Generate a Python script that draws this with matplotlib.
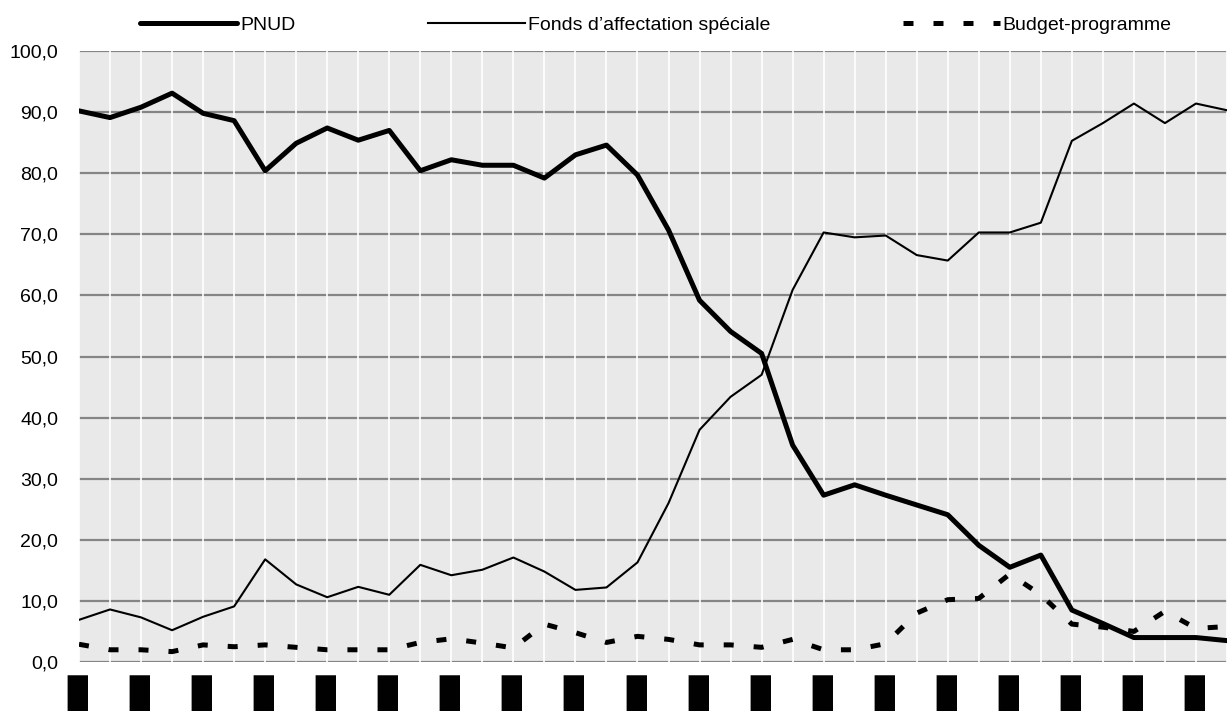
import numpy as np
import matplotlib
matplotlib.use('Agg')
import matplotlib.pyplot as plt

plt.rcParams.update({
    'font.family': ['Liberation Sans', 'DejaVu Sans'],
    'font.size': 14,
})

# Share of resources by source (%), one value per period; the last one falls just past the right edge
pnud = [90.2, 89.1, 90.8, 93.1, 89.8, 88.6, 80.4, 84.9, 87.4, 85.4, 87.0, 80.4, 82.2,
        81.3, 81.3, 79.2, 83.0, 84.6, 79.7, 70.7, 59.2, 54.1, 50.5, 35.5, 27.3, 29.0,
        27.3, 25.7, 24.1, 19.1, 15.5, 17.5, 8.5, 6.3, 4.0, 4.0, 4.0, 3.5]
fonds = [6.9, 8.6, 7.3, 5.2, 7.4, 9.1, 16.8, 12.7, 10.6, 12.3, 11.0, 15.9, 14.2,
         15.1, 17.1, 14.8, 11.8, 12.2, 16.3, 26.0, 38.0, 43.4, 47.0, 60.9, 70.3, 69.5,
         69.8, 66.6, 65.7, 70.3, 70.3, 71.9, 85.3, 88.2, 91.4, 88.2, 91.4, 90.3]
budget = [2.9, 2.0, 2.0, 1.7, 2.8, 2.5, 2.8, 2.4, 2.0, 2.0, 2.0, 3.2, 3.8,
          3.1, 2.3, 6.2, 4.8, 3.2, 4.2, 3.7, 2.8, 2.8, 2.4, 3.7, 2.0, 2.0,
          3.0, 8.0, 10.2, 10.4, 14.4, 11.0, 6.2, 5.7, 5.0, 8.3, 5.5, 5.8]

y_ticks = [0, 10, 20, 30, 40, 50, 60, 70, 80, 90, 100]
y_labels = ['0,0', '10,0', '20,0', '30,0', '40,0', '50,0', '60,0', '70,0', '80,0', '90,0', '100,0']
# period labels are masked in the source (shown as solid blocks)
x_label_text = '\u2588\u2588\u2588\u2588'

W, H = 1227, 711
fig = plt.figure(figsize=(W / 100, H / 100), dpi=100)
ax = fig.add_axes([79 / W, 1 - 662 / H, 1 - 79 / W, (662 - 51) / H])
ax.set_facecolor('#e9e9e9')

x = np.arange(len(pnud))
l1, = ax.plot(x, pnud, color='black', lw=3.6, solid_capstyle='round',
              solid_joinstyle='round', label='PNUD', zorder=3)
l2, = ax.plot(x, fonds, color='black', lw=1.5, solid_joinstyle='round',
              label='Fonds d\u2019affectation sp\u00e9ciale', zorder=3)
l3, = ax.plot(x, budget, color='black', lw=3.6, dashes=(2, 4),
              label='Budget-programme', zorder=3)

ax.set_xlim(0, 36.64)
ax.set_ylim(0, 100)
ax.set_yticks(y_ticks)
ax.set_yticklabels(y_labels)

ticks = list(range(0, 37, 2))
ax.set_xticks(ticks)
ax.set_xticks(x, minor=True)
ax.set_xticklabels([x_label_text] * len(ticks), rotation=90, va='top',
                   fontsize=14.4, family='DejaVu Sans')
ax.tick_params(axis='both', which='both', length=0)
ax.tick_params(axis='y', pad=15)
ax.tick_params(axis='x', pad=9)

# vertical white grid at every period, grey horizontal grid under it
ax.grid(False)
ax.xaxis.grid(True, which='both', color='white', lw=1.2)
ax.yaxis.grid(True, which='major', color='#858585', lw=1.6)
ax.set_axisbelow(True)
ax.yaxis.set_zorder(0.5)
ax.xaxis.set_zorder(0.6)

for s in ax.spines.values():
    s.set_visible(False)

fig.legend(handles=[l1, l2, l3], loc='center', ncol=3, frameon=False,
           bbox_to_anchor=(656 / W, 1 - 25 / H), handlelength=5.0,
           handletextpad=0.15, columnspacing=6.8, fontsize=14)

fig.savefig('out.png', dpi=100)
